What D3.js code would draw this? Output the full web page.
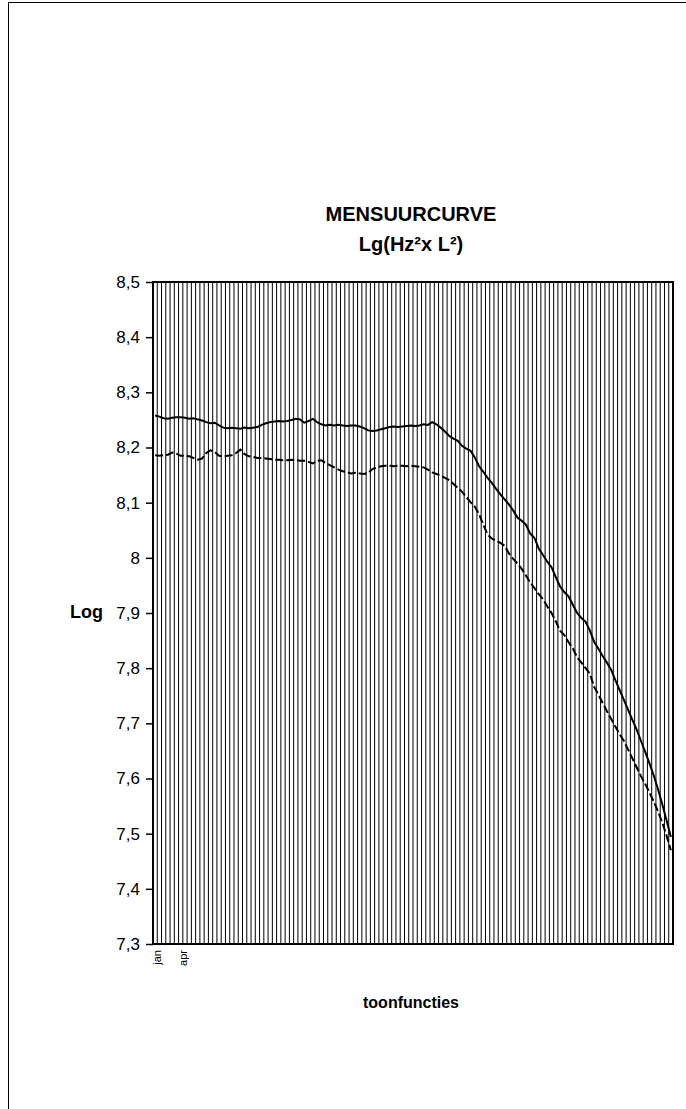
<!DOCTYPE html>
<html>
<head>
<meta charset="utf-8">
<script src="https://cdn.jsdelivr.net/npm/d3@7"></script>
<style>
body { margin: 0; background: #fff; }
text { font-family: Arial, "Liberation Sans", sans-serif; fill: #000; }
</style>
</head>
<body>
<svg class="mensuur"></svg>
<script>
// category labels (only the first few are shown on the axis)
var tickLabels = ["jan", "", "", "", "", "", "apr"];

// upper curve (solid)
var upper = [
  8.258, 8.256, 8.253, 8.252, 8.254, 8.255, 8.255, 8.254, 8.252, 8.253,
  8.251, 8.249, 8.246, 8.244, 8.245, 8.240, 8.236, 8.235, 8.236, 8.235,
  8.234, 8.236, 8.235, 8.236, 8.237, 8.241, 8.244, 8.246, 8.247, 8.248,
  8.247, 8.248, 8.250, 8.252, 8.251, 8.245, 8.248, 8.252, 8.246, 8.242,
  8.240, 8.241, 8.240, 8.241, 8.240, 8.239, 8.240, 8.240, 8.238, 8.235,
  8.231, 8.230, 8.231, 8.233, 8.235, 8.237, 8.238, 8.237, 8.238, 8.239,
  8.240, 8.239, 8.240, 8.242, 8.241, 8.246, 8.242, 8.236, 8.229, 8.221,
  8.216, 8.212, 8.203, 8.198, 8.194, 8.182, 8.166, 8.156, 8.145, 8.136,
  8.125, 8.115, 8.106, 8.097, 8.086, 8.073, 8.067, 8.060, 8.044, 8.036,
  8.017, 8.005, 7.993, 7.983, 7.965, 7.948, 7.938, 7.930, 7.915, 7.900,
  7.891, 7.884, 7.868, 7.848, 7.835, 7.822, 7.810, 7.797, 7.778, 7.760,
  7.742, 7.724, 7.706, 7.688, 7.668, 7.648, 7.627, 7.605, 7.580, 7.553,
  7.524, 7.494
];

// lower curve (dashed)
var lower = [
  8.186, 8.185, 8.186, 8.187, 8.191, 8.189, 8.185, 8.185, 8.184, 8.181,
  8.178, 8.180, 8.190, 8.195, 8.192, 8.185, 8.184, 8.185, 8.186, 8.190,
  8.196, 8.188, 8.184, 8.183, 8.181, 8.181, 8.180, 8.179, 8.178, 8.178,
  8.177, 8.177, 8.178, 8.177, 8.176, 8.176, 8.174, 8.171, 8.176, 8.177,
  8.172, 8.168, 8.164, 8.160, 8.157, 8.155, 8.153, 8.154, 8.153, 8.152,
  8.154, 8.161, 8.164, 8.166, 8.167, 8.167, 8.166, 8.167, 8.167, 8.166,
  8.167, 8.166, 8.165, 8.164, 8.160, 8.155, 8.152, 8.149, 8.145, 8.141,
  8.134, 8.127, 8.120, 8.110, 8.101, 8.093, 8.079, 8.060, 8.042, 8.035,
  8.031, 8.027, 8.022, 8.008, 7.998, 7.990, 7.980, 7.968, 7.955, 7.945,
  7.934, 7.925, 7.912, 7.900, 7.885, 7.868, 7.860, 7.847, 7.836, 7.820,
  7.810, 7.800, 7.790, 7.766, 7.752, 7.737, 7.722, 7.708, 7.694, 7.680,
  7.668, 7.652, 7.636, 7.620, 7.604, 7.590, 7.574, 7.558, 7.540, 7.520,
  7.496, 7.470
];

var yTicks = [7.3, 7.4, 7.5, 7.6, 7.7, 7.8, 7.9, 8.0, 8.1, 8.2, 8.3, 8.4, 8.5];

var margin = {top: 282, left: 153},
    width = 520,
    height = 662;

var n = upper.length;

// set the ranges
var x = d3.scaleBand().domain(d3.range(n)).range([0, width]).padding(0);
var y = d3.scaleLinear().domain([7.3, 8.5]).range([height, 0]);

var valueline = d3.line()
    .x(function(d, i) { return x(i) + x.bandwidth() / 2; })
    .y(function(d) { return y(d); });

var svg = d3.select(".mensuur")
    .attr("width", 686)
    .attr("height", 1109);

// outer chart border (runs off the page on the right and bottom)
svg.append("rect")
    .attr("x", 8.5).attr("y", 2.5)
    .attr("width", 720).attr("height", 1200)
    .attr("fill", "none")
    .attr("stroke", "#000")
    .attr("stroke-width", 1);

// title
svg.append("text")
    .attr("x", 411).attr("y", 221)
    .attr("text-anchor", "middle")
    .style("font-size", "20px").style("font-weight", "bold")
    .text("MENSUURCURVE");
svg.append("text")
    .attr("x", 411).attr("y", 251)
    .attr("text-anchor", "middle")
    .style("font-size", "20px").style("font-weight", "bold")
    .text("Lg(Hz²x L²)");

var chart = svg.append("g")
    .attr("transform", "translate(" + margin.left + "," + margin.top + ")");

// vertical gridlines at each category boundary
chart.selectAll(".grid")
    .data(d3.range(n + 1))
  .enter().append("line")
    .attr("class", "grid")
    .attr("x1", function(i) { return i < n ? x(i) : width; })
    .attr("x2", function(i) { return i < n ? x(i) : width; })
    .attr("y1", 0).attr("y2", height)
    .attr("stroke", "#000")
    .attr("stroke-width", 1);

// plot border
chart.append("rect")
    .attr("width", width).attr("height", height)
    .attr("fill", "none")
    .attr("stroke", "#000")
    .attr("stroke-width", 2);

// the two curves
chart.append("path")
    .datum(upper)
    .attr("fill", "none")
    .attr("stroke", "#000")
    .attr("stroke-width", 2)
    .attr("d", valueline);

chart.append("path")
    .datum(lower)
    .attr("fill", "none")
    .attr("stroke", "#000")
    .attr("stroke-width", 2)
    .attr("stroke-dasharray", "8,3")
    .attr("d", valueline);

// y axis
var yAxis = chart.append("g")
    .call(d3.axisLeft(y)
      .tickValues(yTicks)
      .tickSize(7)
      .tickPadding(6)
      .tickFormat(function(d) { return String(+d.toFixed(1)).replace(".", ","); }));
yAxis.select(".domain").remove();
yAxis.selectAll("line").attr("stroke", "#000").attr("stroke-width", 1.5);
yAxis.selectAll("text")
    .style("font-size", "17px")
    .style("font-family", "Arial, 'Liberation Sans', sans-serif");

// x axis category labels, rotated
var xAxis = chart.append("g")
    .attr("transform", "translate(0," + height + ")")
    .call(d3.axisBottom(x)
      .tickSize(0)
      .tickFormat(function(i) { return tickLabels[i] || ""; }));
xAxis.select(".domain").remove();
xAxis.selectAll("text")
    .style("font-size", "11px")
    .style("font-family", "Arial, 'Liberation Sans', sans-serif")
    .attr("text-anchor", "end")
    .attr("dy", "0.35em")
    .attr("transform", "translate(2,6) rotate(-90)")
    .attr("y", 0).attr("x", 0);

// axis titles
svg.append("text")
    .attr("x", 103).attr("y", 618)
    .attr("text-anchor", "end")
    .style("font-size", "18px").style("font-weight", "bold")
    .text("Log");

svg.append("text")
    .attr("x", 411).attr("y", 1008)
    .attr("text-anchor", "middle")
    .style("font-size", "16px").style("font-weight", "bold")
    .text("toonfuncties");
</script>
</body>
</html>
